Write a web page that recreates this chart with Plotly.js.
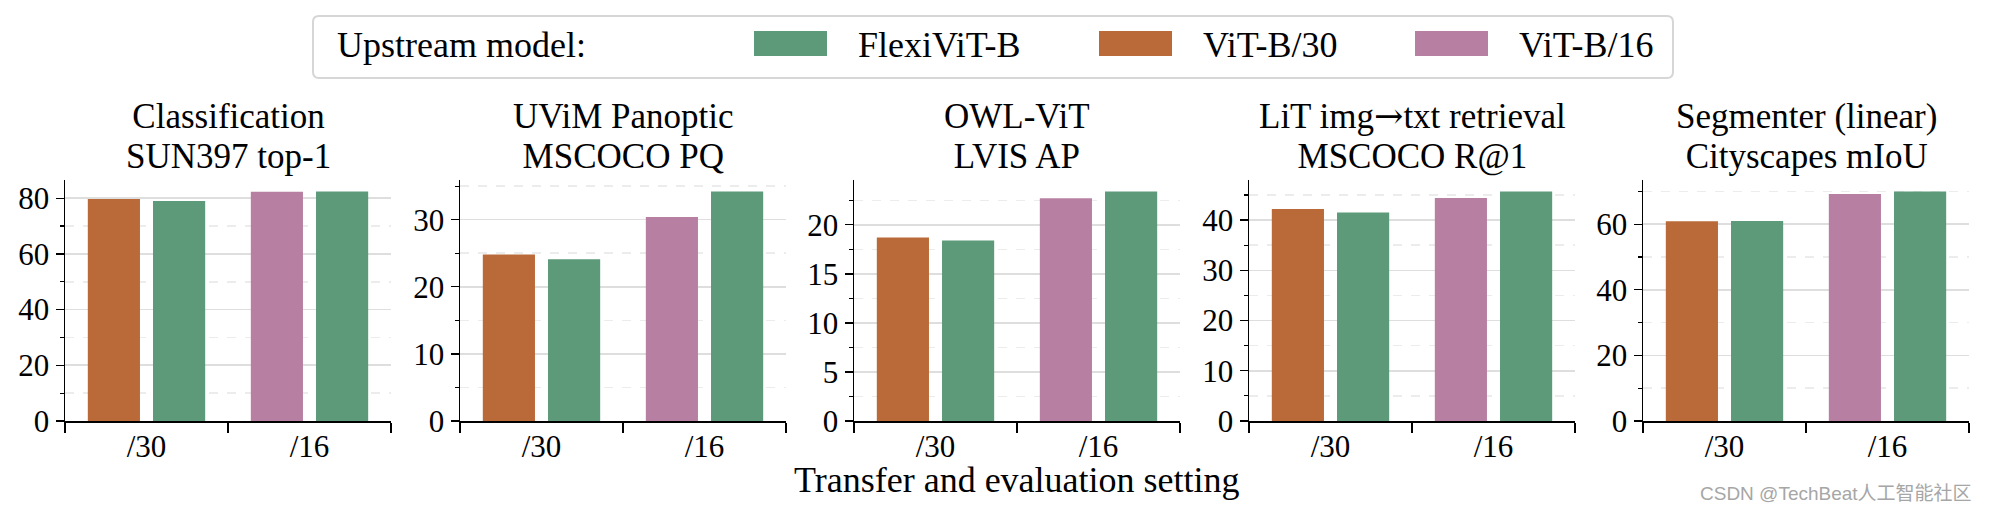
<!DOCTYPE html>
<html><head><meta charset="utf-8">
<script src="https://cdn.plot.ly/plotly-3.0.1.min.js"></script>
<style>html,body{margin:0;padding:0;background:#fff}#chart{width:1990px;height:512px}</style>
</head><body><div id="chart"></div>
<script>
// ---------------- data ----------------
const settings = ['/30', '/16'];
const titleLine1 = ['Classification', 'UViM Panoptic', 'OWL-ViT', 'LiT img\u2192txt retrieval', 'Segmenter (linear)'];
const titleLine2 = ['SUN397 top-1', 'MSCOCO PQ', 'LVIS AP', 'MSCOCO R@1', 'Cityscapes mIoU'];
const flexiVit30 = [79.0, 24.1, 18.4, 41.5, 61.0];
const flexiVit16 = [82.4, 34.2, 23.4, 45.7, 70.0];
const vitB30 = [79.7, 24.8, 18.7, 42.2, 60.9];
const vitB16 = [82.3, 30.4, 22.7, 44.4, 69.2];
const majorStep = [20, 10, 5, 10, 20];
const seriesNames = ['FlexiViT-B', 'ViT-B/30', 'ViT-B/16'];
const seriesColors = ['#5c9a79', '#ba6a38', '#b780a3'];
const legendTitle = 'Upstream model:';
const xTitle = 'Transfer and evaluation setting';
const watermark = 'CSDN @TechBeat\u4eba\u5de5\u667a\u80fd\u793e\u533a';

// ---------------- layout constants ----------------
const W = 1990, H = 512;
const FONT = 'Liberation Serif, Times New Roman, serif';
const plotTop = 180, plotBottom = 421;
const axisLeft = [65, 460, 854, 1249, 1643], axisWidth = 326;
const px = x => x / W, py = y => 1 - y / H;
const TITLE_SIZE = 35, TITLE_LINE_GAP = 40;

function titleHtml(s) {
  // render the arrow with a font that has a full-width arrow glyph
  return s.replace('\u2192', '<span style="font-family:DejaVu Serif">\u2192</span>');
}

const traces = [];
const layout = {
  width: W, height: H,
  margin: {l: 0, r: 0, t: 0, b: 0},
  paper_bgcolor: '#fff', plot_bgcolor: 'rgba(0,0,0,0)',
  barmode: 'overlay', showlegend: false,
  font: {family: FONT, color: '#000'},
  annotations: [], shapes: []
};

for (let i = 0; i < 5; i++) {
  const k = i === 0 ? '' : String(i + 1);
  const xa = 'x' + k, ya = 'y' + k;
  traces.push({type: 'bar', x: [settings[0]], y: [vitB30[i]], xaxis: xa, yaxis: ya, name: seriesNames[1],
    marker: {color: seriesColors[1], line: {width: 0}}, offset: -0.36, width: 0.32, hoverinfo: 'y'});
  traces.push({type: 'bar', x: [settings[1]], y: [vitB16[i]], xaxis: xa, yaxis: ya, name: seriesNames[2],
    marker: {color: seriesColors[2], line: {width: 0}}, offset: -0.36, width: 0.32, hoverinfo: 'y'});
  traces.push({type: 'bar', x: settings, y: [flexiVit30[i], flexiVit16[i]], xaxis: xa, yaxis: ya, name: seriesNames[0],
    marker: {color: seriesColors[0], line: {width: 0}}, offset: 0.04, width: 0.32, hoverinfo: 'y'});

  const ymax = Math.max(flexiVit30[i], flexiVit16[i], vitB30[i], vitB16[i]) * 1.05;
  layout['xaxis' + k] = {
    domain: [px(axisLeft[i]), px(axisLeft[i] + axisWidth)], anchor: ya,
    type: 'category', categoryorder: 'array', categoryarray: settings, range: [-0.5, 1.5],
    tickson: 'boundaries', ticks: 'outside', ticklen: 10, tickwidth: 1.3, tickcolor: '#000',
    ticklabelstandoff: -3,
    showline: true, linecolor: '#000', linewidth: 1.5, showgrid: false, zeroline: false,
    tickfont: {family: FONT, size: 31, color: '#000'}, fixedrange: true
  };
  layout['yaxis' + k] = {
    domain: [py(plotBottom), py(plotTop)], anchor: xa,
    range: [0, ymax], tick0: 0, dtick: majorStep[i],
    ticks: 'outside', ticklen: 8, tickwidth: 1.3, tickcolor: '#000',
    showline: true, linecolor: '#000', linewidth: 1.5, zeroline: false,
    showgrid: true, gridcolor: '#dedede', gridwidth: 1.6,
    minor: {dtick: majorStep[i] / 2, tick0: 0, ticks: 'outside', ticklen: 4, tickwidth: 1.2, tickcolor: '#000',
      showgrid: true, gridcolor: '#ececec', gridwidth: 1.6, griddash: 'dash'},
    tickfont: {family: FONT, size: 31, color: '#000'}, fixedrange: true
  };
  // two-line panel title as one text block; line spacing = 1.3 * base font size
  const cx = px(axisLeft[i] + axisWidth / 2);
  const span = t => '<span style="font-size:' + TITLE_SIZE + 'px">' + titleHtml(t) + '</span>';
  layout.annotations.push({xref: 'paper', yref: 'paper', x: cx, y: py(136), xanchor: 'center', yanchor: 'middle',
    text: span(titleLine1[i]) + '<br>' + span(titleLine2[i]), showarrow: false,
    font: {family: FONT, size: TITLE_LINE_GAP / 1.3, color: '#000'}});
}

// shared x title
layout.annotations.push({xref: 'paper', yref: 'paper', x: px(1017), y: py(480), xanchor: 'center', yanchor: 'middle',
  text: xTitle, showarrow: false, font: {family: FONT, size: 36, color: '#000'}});

// legend (drawn as shapes + text so swatches match the reference size)
function roundedRect(x0, y0, x1, y1, r) {
  const X = v => px(v).toFixed(6), Y = v => py(v).toFixed(6);
  return 'M' + X(x0 + r) + ',' + Y(y0) + ' L' + X(x1 - r) + ',' + Y(y0) +
    ' Q' + X(x1) + ',' + Y(y0) + ' ' + X(x1) + ',' + Y(y0 + r) +
    ' L' + X(x1) + ',' + Y(y1 - r) + ' Q' + X(x1) + ',' + Y(y1) + ' ' + X(x1 - r) + ',' + Y(y1) +
    ' L' + X(x0 + r) + ',' + Y(y1) + ' Q' + X(x0) + ',' + Y(y1) + ' ' + X(x0) + ',' + Y(y1 - r) +
    ' L' + X(x0) + ',' + Y(y0 + r) + ' Q' + X(x0) + ',' + Y(y0) + ' ' + X(x0 + r) + ',' + Y(y0) + ' Z';
}
layout.shapes.push({type: 'path', xref: 'paper', yref: 'paper', path: roundedRect(313, 16, 1673, 78, 6),
  line: {color: '#d6d6d6', width: 2}, fillcolor: '#fff', layer: 'below'});
layout.annotations.push({xref: 'paper', yref: 'paper', x: px(335), y: py(45), xanchor: 'left', yanchor: 'middle',
  text: legendTitle, showarrow: false, font: {family: FONT, size: 36, color: '#000'}});
const swatchLeft = [754, 1099, 1415], swatchW = 73, swatchTop = 31, swatchBottom = 56, textGap = 29;
for (let j = 0; j < 3; j++) {
  layout.shapes.push({type: 'rect', xref: 'paper', yref: 'paper',
    x0: px(swatchLeft[j]), x1: px(swatchLeft[j] + swatchW), y0: py(swatchBottom), y1: py(swatchTop),
    fillcolor: seriesColors[j], line: {width: 0}});
  layout.annotations.push({xref: 'paper', yref: 'paper', x: px(swatchLeft[j] + swatchW + textGap), y: py(45),
    xanchor: 'left', yanchor: 'middle', text: seriesNames[j], showarrow: false,
    font: {family: FONT, size: 36, color: '#000'}});
}

// watermark
layout.annotations.push({xref: 'paper', yref: 'paper', x: px(1974), y: py(493), xanchor: 'right', yanchor: 'middle',
  text: watermark, showarrow: false,
  font: {family: 'Liberation Sans, Noto Sans CJK SC, sans-serif', size: 19, color: '#a6a6a6'}});

Plotly.newPlot('chart', traces, layout, {staticPlot: true, displayModeBar: false});
</script>
</body></html>
